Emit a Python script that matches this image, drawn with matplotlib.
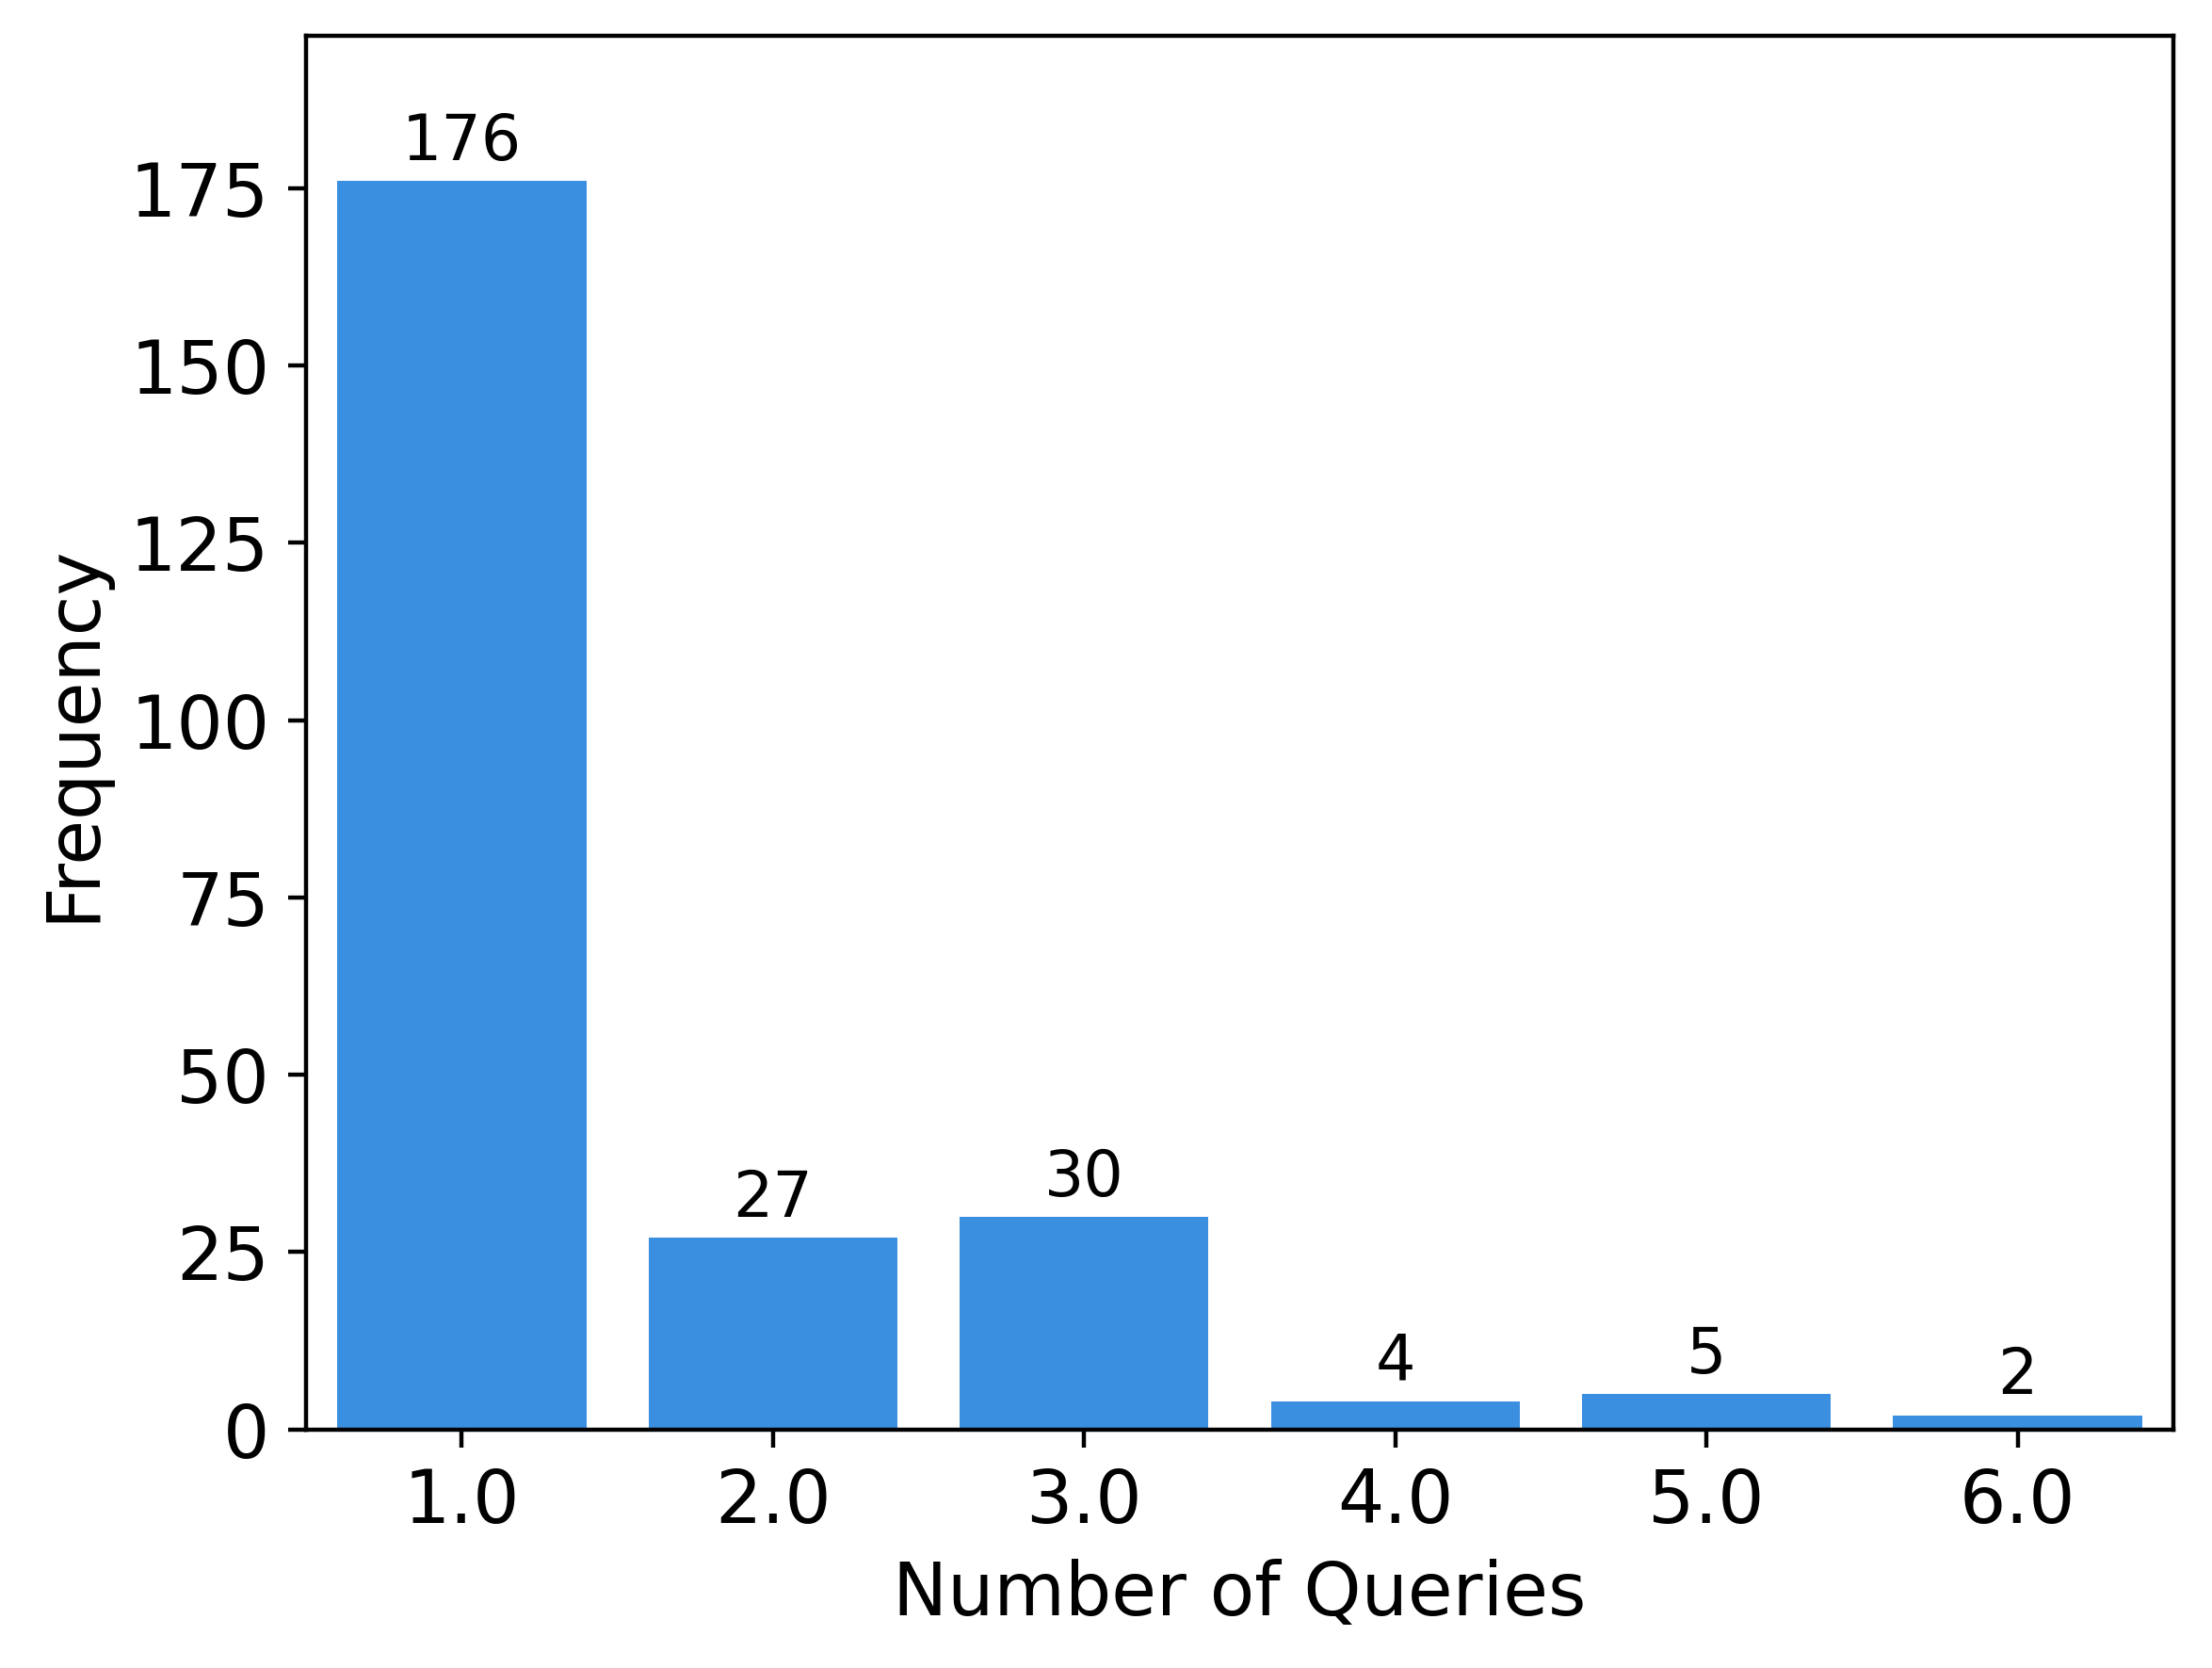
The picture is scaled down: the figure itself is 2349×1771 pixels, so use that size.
import matplotlib
matplotlib.use("Agg")
import matplotlib.pyplot as plt

# number of queries per question and how often it occurs
queries = [1.0, 2.0, 3.0, 4.0, 5.0, 6.0]
counts = [176, 27, 30, 4, 5, 2]
tick_labels = [str(q) for q in queries]

fig = plt.figure(figsize=(2349 / 400, 1771 / 400), dpi=400)
ax = fig.add_axes([0.1384, 0.1430, 0.9825 - 0.1384, 0.9785 - 0.1430])

bars = ax.bar(queries, counts, width=0.8, color="#3b8fe0")
ax.bar_label(bars, labels=[str(c) for c in counts], padding=1.5, fontsize=12)

ax.set_xlim(0.5, 6.5)
ax.set_ylim(0, 196.5)
ax.set_xticks(queries)
ax.set_xticklabels(tick_labels)
ax.set_yticks(range(0, 176, 25))
ax.tick_params(labelsize=14)
ax.set_xlabel("Number of Queries", fontsize=14)
ax.set_ylabel("Frequency", fontsize=14)

fig.savefig("out.png", dpi=400)
